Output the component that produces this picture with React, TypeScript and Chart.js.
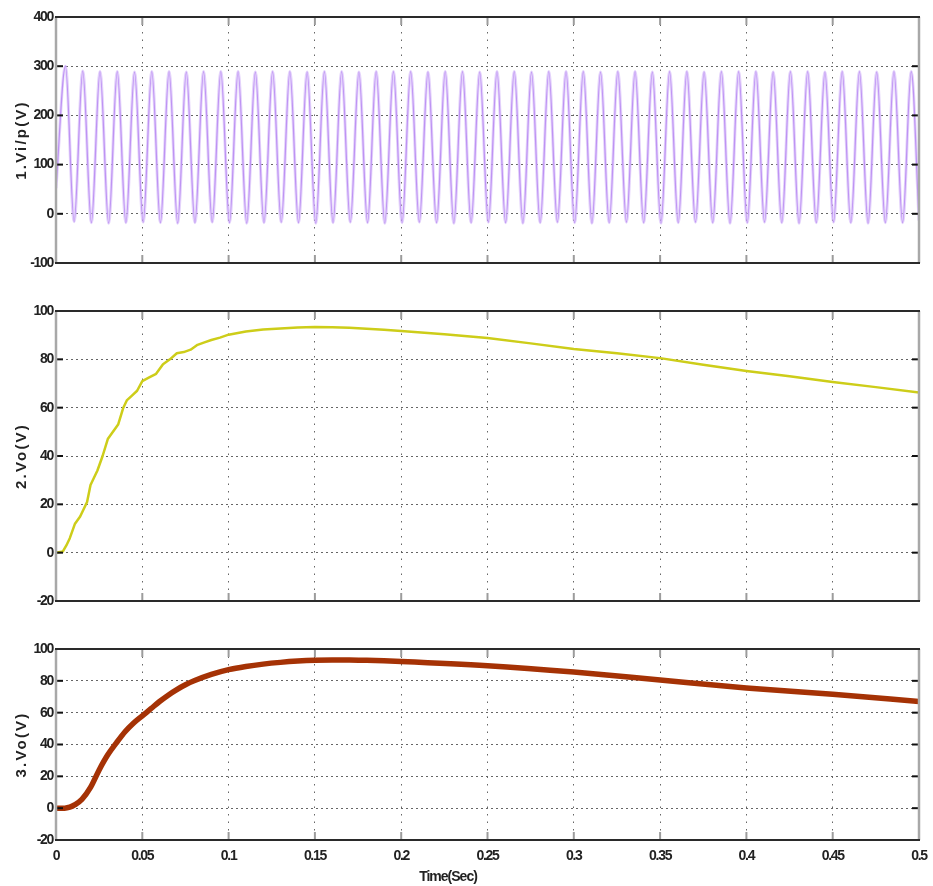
import React, { useEffect, useRef } from 'react';
import { Chart, registerables } from 'chart.js';

Chart.register(...registerables);

const W = 933;

// ---------- shared axis data ----------
const xTickLabels = ['0', '0.05', '0.1', '0.15', '0.2', '0.25', '0.3', '0.35', '0.4', '0.45', '0.5'];
const vinTickLabels = ['-100', '0', '100', '200', '300', '400'];
const voTickLabels = ['-20', '0', '20', '40', '60', '80', '100'];
const xTitle = 'Time(Sec)';

// ---------- panel 1 : input voltage (100 Hz) ----------
const VIN_PERIOD = 0.01;
const VIN_FIRST_PEAK = 0.0055;
const vinStart = 52;
const vinEnd = -14;
const vinPeaks = [
  300, 290, 289, 289, 288, 289, 289, 288, 289, 289,
  289, 288, 289, 289, 288, 289, 289, 288, 289, 289,
  289, 288, 289, 289, 288, 289, 289, 288, 289, 289,
  289, 288, 289, 289, 288, 289, 289, 288, 289, 289,
  289, 288, 289, 289, 288, 289, 289, 288, 289, 289,
];
const vinTroughs = [
  -16, -18, -19, -18, -17, -18, -19, -18, -17, -18,
  -19, -18, -17, -18, -19, -18, -17, -18, -19, -18,
  -17, -18, -19, -18, -17, -18, -19, -18, -17, -18,
  -19, -18, -17, -18, -19, -18, -17, -18, -19, -18,
  -17, -18, -19, -18, -17, -18, -19, -18, -18,
];

// ---------- panel 2 : output voltage with ripple ----------
const vo2Time = [
  0, 0.004, 0.006, 0.008, 0.011, 0.014, 0.016, 0.018, 0.02, 0.022,
  0.024, 0.027, 0.03, 0.033, 0.036, 0.039, 0.041, 0.044, 0.047, 0.05,
  0.054, 0.058, 0.062, 0.066, 0.07, 0.074, 0.078, 0.082, 0.086, 0.09,
  0.095, 0.1, 0.11, 0.12, 0.13, 0.14, 0.15, 0.16, 0.17, 0.18,
  0.19, 0.2, 0.225, 0.25, 0.275, 0.3, 0.325, 0.35, 0.375, 0.4,
  0.425, 0.45, 0.475, 0.5,
];
const vo2Values = [
  0, 0.5, 3, 6, 12, 15, 18, 21, 28, 31,
  34, 40, 47, 50, 53, 60, 63, 65, 67, 71,
  72.5, 74, 78, 80, 82.5, 83, 84, 86, 87, 88,
  89, 90.2, 91.5, 92.3, 92.8, 93.2, 93.4, 93.3, 93.1, 92.7,
  92.2, 91.7, 90.4, 88.8, 86.6, 84.3, 82.5, 80.5, 77.8, 75.2,
  73, 70.6, 68.5, 66.3,
];

// ---------- panel 3 : filtered output voltage ----------
const vo3Time = [
  0, 0.005, 0.008, 0.011, 0.015, 0.02, 0.025, 0.03, 0.035, 0.04,
  0.045, 0.05, 0.055, 0.06, 0.065, 0.07, 0.075, 0.08, 0.09, 0.1,
  0.11, 0.12, 0.13, 0.14, 0.15, 0.16, 0.17, 0.18, 0.19, 0.2,
  0.25, 0.3, 0.35, 0.4, 0.45, 0.5,
];
const vo3Values = [
  0, 0, 0.6, 2.2, 5.5, 13, 24, 33.5, 41, 48,
  53.5, 58, 62.5, 67, 71, 74.5, 77.5, 80, 84, 87,
  89, 90.5, 91.6, 92.4, 92.9, 93.1, 93.1, 92.9, 92.6, 92.2,
  89.5, 85.5, 80.5, 75.5, 71.5, 67,
];

// ---------- build point tables ----------
function vinPoints() {
  const pts: { x: number; y: number }[] = [{ x: 0, y: vinStart }];
  vinPeaks.forEach((p, k) => {
    const tp = VIN_FIRST_PEAK + k * VIN_PERIOD;
    pts.push({ x: tp, y: p });
    if (k < vinTroughs.length) pts.push({ x: tp + VIN_PERIOD / 2, y: vinTroughs[k] });
  });
  pts.push({ x: 0.5, y: vinEnd });
  return pts;
}
const zip = (t: number[], v: number[]) => t.map((x, i) => ({ x, y: v[i] }));

const TICK_FONT = { family: '"Liberation Sans", Arial, sans-serif', size: 14, weight: 'bold' as const };
const TITLE_FONT = { family: '"Liberation Sans", Arial, sans-serif', size: 15, weight: 'bold' as const };
const GRID_COLOR = 'rgba(85,85,85,0.9)';

const framePlugin = {
  id: 'frame',
  beforeDraw(chart: any) {
    chart.ctx.letterSpacing = '2.2px';
  },
  beforeDatasetsDraw(chart: any) {
    chart.ctx.letterSpacing = '0px';
  },
  afterDatasetsDraw(chart: any) {
    chart.ctx.letterSpacing = '-1.3px';
  },
  afterDraw(chart: any) {
    const { ctx, chartArea: a, scales } = chart;
    const xs = scales.x;
    const ys = scales.y;
    ctx.save();
    ctx.letterSpacing = '0px';
    const line = (x1: number, y1: number, x2: number, y2: number) => {
      ctx.beginPath();
      ctx.moveTo(x1, y1);
      ctx.lineTo(x2, y2);
      ctx.stroke();
    };
    ctx.strokeStyle = '#9c9c9c';
    ctx.lineWidth = 2;
    xs.ticks.forEach((t: any) => {
      const px = xs.getPixelForValue(t.value);
      line(px, a.top, px, a.top + 8);
      line(px, a.bottom - 8, px, a.bottom);
    });
    ctx.strokeStyle = '#111';
    ctx.lineWidth = 2;
    ys.ticks.forEach((t: any) => {
      const py = ys.getPixelForValue(t.value);
      line(a.left, py, a.left + 7, py);
      line(a.right - 7, py, a.right, py);
    });
    ctx.strokeStyle = '#a8a8a8';
    ctx.lineWidth = 2.5;
    line(a.left, a.top, a.left, a.bottom);
    line(a.right, a.top, a.right, a.bottom);
    ctx.strokeStyle = '#2a2a2a';
    ctx.lineWidth = 1.8;
    line(a.left - 1, a.top, a.right + 1, a.top);
    line(a.left - 1, a.bottom, a.right + 1, a.bottom);
    if (chart.options.plugins.xTitle && chart.options.plugins.xTitle.show) {
      ctx.letterSpacing = '-1px';
      ctx.fillStyle = '#222';
      ctx.font = 'bold 14px "Liberation Sans", Arial, sans-serif';
      ctx.textAlign = 'center';
      ctx.textBaseline = 'middle';
      ctx.fillText(xTitle, 448, chart.height - 9);
    }
    ctx.restore();
  },
};

type PanelSpec = {
  top: number;
  height: number;
  padTop: number;
  padBottom: number;
  xAxisHeight: number;
  showX: boolean;
  yMin: number;
  yMax: number;
  yStep: number;
  yLabels: string[];
  yTitle: string;
  points: { x: number; y: number }[];
  color: string;
  width: number;
  smooth: boolean;
  band?: string;
};

function buildConfig(s: PanelSpec): any {
  const datasets: any[] = [];
  if (s.band) {
    datasets.push({
      data: s.points,
      borderColor: s.band,
      borderWidth: 3,
      pointRadius: 0,
      fill: false,
      tension: 0,
      cubicInterpolationMode: s.smooth ? 'monotone' : 'default',
    });
  }
  datasets.push({
    data: s.points,
    borderColor: s.color,
    borderWidth: s.width,
    pointRadius: 0,
    fill: false,
    tension: 0,
    cubicInterpolationMode: s.smooth ? 'monotone' : 'default',
    borderJoinStyle: 'round',
  });
  return {
    type: 'line',
    data: { datasets },
    options: {
      animation: false,
      responsive: false,
      devicePixelRatio: 1,
      layout: { padding: { top: s.padTop, bottom: s.padBottom, left: 0, right: 14 } },
      plugins: {
        legend: { display: false },
        tooltip: { enabled: false },
        xTitle: { show: s.showX },
      },
      scales: {
        x: {
          type: 'linear',
          min: 0,
          max: 0.5,
          ticks: {
            stepSize: 0.05,
            display: s.showX,
            padding: 8,
            font: TICK_FONT,
            color: '#222',
            maxRotation: 0,
            autoSkip: false,
            z: 1,
            callback: (_v: any, i: number) => xTickLabels[i],
          },
          grid: { color: GRID_COLOR, lineWidth: 1, drawTicks: false },
          border: { display: false, dash: [1.5, 6] },
          afterFit: (sc: any) => {
            sc.height = s.xAxisHeight;
            sc.paddingLeft = 0;
            sc.paddingRight = 0;
          },
        },
        y: {
          type: 'linear',
          min: s.yMin,
          max: s.yMax,
          ticks: {
            stepSize: s.yStep,
            padding: 3,
            font: TICK_FONT,
            color: '#222',
            z: 1,
            callback: (_v: any, i: number) => s.yLabels[i],
          },
          grid: { color: GRID_COLOR, lineWidth: 1, drawTicks: false },
          border: { display: false, dash: [2, 3] },
          title: {
            display: true,
            text: s.yTitle,
            font: TITLE_FONT,
            color: '#222',
            padding: { top: 13, bottom: 0 },
          },
          afterFit: (sc: any) => {
            sc.width = 56;
            sc.paddingTop = 0;
            sc.paddingBottom = 0;
          },
        },
      },
    },
    plugins: [framePlugin],
  };
}

const panels: PanelSpec[] = [
  {
    top: 0, height: 280, padTop: 17, padBottom: 17, xAxisHeight: 0, showX: false,
    yMin: -100, yMax: 400, yStep: 100, yLabels: vinTickLabels, yTitle: '1.Vi/p(V)',
    points: vinPoints(), color: 'rgb(160,95,236)', width: 1.2, smooth: true,
    band: 'rgba(210,182,248,0.6)',
  },
  {
    top: 290, height: 330, padTop: 21, padBottom: 19, xAxisHeight: 0, showX: false,
    yMin: -20, yMax: 100, yStep: 20, yLabels: voTickLabels, yTitle: '2.Vo(V)',
    points: zip(vo2Time, vo2Values), color: 'rgb(205,205,25)', width: 2.5, smooth: false,
  },
  {
    top: 625, height: 261, padTop: 24, padBottom: 0, xAxisHeight: 46, showX: true,
    yMin: -20, yMax: 100, yStep: 20, yLabels: voTickLabels, yTitle: '3.Vo(V)',
    points: zip(vo3Time, vo3Values), color: 'rgb(165,50,5)', width: 5.5, smooth: true,
  },
];

function Panel({ spec }: { spec: PanelSpec }) {
  const ref = useRef<HTMLCanvasElement>(null);
  useEffect(() => {
    const chart = new Chart(ref.current as HTMLCanvasElement, buildConfig(spec));
    return () => chart.destroy();
  }, [spec]);
  return (
    <canvas
      ref={ref}
      width={W}
      height={spec.height}
      style={{ position: 'absolute', left: 0, top: spec.top, width: W, height: spec.height }}
    />
  );
}

export default function App() {
  return (
    <div style={{ position: 'absolute', left: 0, top: 0, width: W, height: 886, background: '#fff' }}>
      {panels.map((p, i) => (
        <Panel key={i} spec={p} />
      ))}
    </div>
  );
}
